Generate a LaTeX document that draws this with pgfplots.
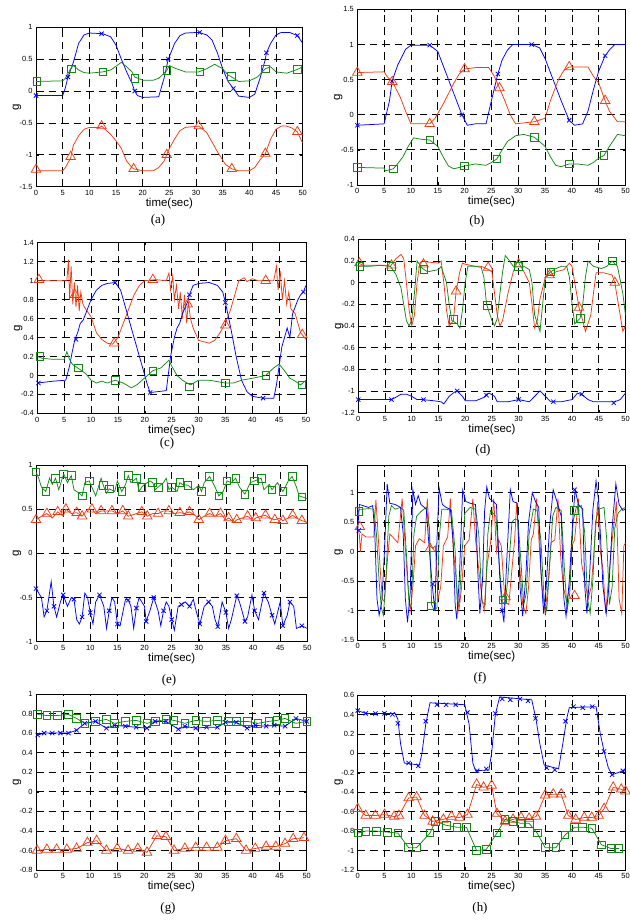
\documentclass[border=0pt]{standalone}
\usepackage{fontspec}
\setmainfont{Liberation Serif}
\setsansfont{Liberation Sans}
\usepackage{pgfplots}
\pgfplotsset{compat=1.18}

\definecolor{mblue}{RGB}{0,0,255}
\definecolor{mgreen}{RGB}{20,135,20}
\definecolor{mred}{RGB}{235,60,20}

\pgfplotsset{
  panel/.style={
    scale only axis, anchor=north west,
    xmin=0, xmax=50, xtick={0,5,...,50},
    grid=major,
    major grid style={black, dash pattern=on 7.5bp off 5bp, line width=0.7bp},
    axis line style={black, line width=0.7bp},
    tick style={black, line width=0.5bp},
    tick align=inside, major tick length=2.5bp,
    ticklabel style={font=\sffamily\fontsize{7.5}{8}\selectfont},
    /pgf/number format/assume math mode=true,
    /pgf/number format/fixed,
    xlabel={time(sec)}, ylabel={g},
    label style={font=\sffamily\fontsize{11.5}{12}\selectfont},
    xlabel style={at={(axis description cs:0.5,0)}, anchor=center, yshift=-17bp},
    ylabel style={at={(axis description cs:0,0.5)}, anchor=center, yshift=19bp},
    every axis plot/.append style={line width=0.75bp},
  },
  bl/.style={mblue, no markers},
  gl/.style={mgreen, no markers},
  rl/.style={mred, no markers},
  bm/.style={mblue, only marks, mark=x, mark size=3bp},
  gm/.style={mgreen, only marks, mark=square, mark size=3.8bp},
  rm/.style={mred, only marks, mark=triangle, mark size=5.5bp},
}
\newcommand{\panelcap}[3]{\node[font=\fontsize{13}{15}\selectfont] at (#1bp,#2bp) {#3};}

\begin{document}
\begin{tikzpicture}
\useasboundingbox (0,0) rectangle (630bp,920bp);

% (a)
\begin{axis}[panel, at={(36bp,892.7bp)}, width=266.7bp, height=159.4bp,
  ymin=-1.5, ymax=1, ytick={-1.5,-1,...,1}]
\addplot[bl] coordinates {(0,-0.07)(5,-0.07)(5.5,0.05)(6,0.22)(7,0.45)(8,0.75)(9,0.88)(10,0.91)(12.5,0.9)(14,0.85)(15,0.72)(16,0.5)(17,0.3)(18,0.12)(18.5,0.0)(19,-0.07)(20,-0.1)(23,-0.09)(24,0.2)(24.8,0.5)(26,0.75)(27,0.87)(28,0.91)(30.5,0.92)(32,0.88)(33,0.8)(34,0.6)(35,0.35)(36,0.15)(37,0.04)(38,-0.08)(40,-0.1)(41,-0.05)(42,0.2)(43,0.5)(43.2,0.6)(44,0.75)(45,0.88)(46,0.92)(47.5,0.92)(49,0.87)(50,0.75)};
\addplot[bm] coordinates {(0,-0.07)(6,0.22)(12.3,0.9)(18.5,0.0)(24.8,0.5)(30.7,0.92)(37,0.04)(43.2,0.6)(49,0.87)};
\addplot[gl] coordinates {(0,0.15)(5,0.16)(5.5,0.2)(6.5,0.35)(7,0.4)(8,0.33)(9,0.29)(10,0.28)(12.5,0.3)(14,0.33)(16,0.45)(17,0.38)(18,0.3)(18.5,0.22)(20,0.17)(22,0.17)(23,0.2)(24,0.28)(24.5,0.32)(25,0.4)(26,0.36)(28,0.3)(30.5,0.3)(32,0.35)(33.5,0.42)(35,0.35)(36,0.25)(36.5,0.23)(38,0.15)(40,0.16)(41.5,0.22)(43,0.35)(44,0.38)(45,0.3)(47,0.28)(49,0.34)(50,0.38)};
\addplot[gm] coordinates {(0.2,0.15)(6.6,0.35)(12.5,0.3)(18.5,0.2)(24.5,0.32)(30.7,0.3)(36.6,0.23)(43,0.35)(49,0.34)};
\addplot[rl] coordinates {(0,-1.25)(5,-1.25)(5.5,-1.2)(6.5,-1.05)(7,-0.85)(8,-0.7)(9,-0.6)(10,-0.57)(12,-0.57)(12.3,-0.55)(14,-0.68)(15,-0.78)(16,-0.9)(17,-1.1)(18,-1.2)(18.3,-1.22)(20,-1.25)(22,-1.25)(23,-1.2)(24,-1.1)(24.5,-1.0)(25,-0.9)(26,-0.75)(27,-0.62)(28,-0.57)(30.5,-0.55)(32,-0.65)(33,-0.8)(34,-0.95)(35.5,-1.15)(36.7,-1.22)(38,-1.25)(40,-1.25)(41,-1.2)(42,-1.08)(43,-0.98)(44,-0.75)(45,-0.6)(46,-0.55)(47,-0.55)(48,-0.58)(49,-0.64)(50,-0.82)};
\addplot[rm] coordinates {(0,-1.23)(6.5,-1.03)(12.3,-0.55)(18.3,-1.22)(24.5,-1.0)(30.5,-0.55)(36.7,-1.22)(43,-0.98)(49,-0.64)};
\end{axis}

% (b)
\begin{axis}[panel, at={(357.3bp,910.7bp)}, width=268.2bp, height=175.7bp,
  ymin=-1, ymax=1.5, ytick={-1,-0.5,...,1.5}]
\addplot[bl] coordinates {(0,-0.15)(5,-0.13)(6,0.2)(6.5,0.48)(7.5,0.7)(9,0.93)(10,0.99)(13.5,0.99)(15,0.9)(16,0.7)(17,0.5)(18,0.3)(19.5,0.0)(20.5,-0.15)(22,-0.13)(24,-0.13)(25,0.2)(26.2,0.58)(27,0.78)(28,0.92)(29,1.0)(32.5,1.0)(34,0.95)(35,0.8)(36,0.6)(37,0.4)(38,0.2)(39.5,-0.08)(40.5,-0.15)(42,-0.13)(43,0.05)(44,0.35)(45,0.62)(46.2,0.84)(47,0.92)(48,1.0)(50,1.0)};
\addplot[bm] coordinates {(0,-0.15)(6.5,0.48)(13.5,0.99)(19.5,0.0)(26.2,0.58)(32.5,1.0)(39.5,-0.08)(46.2,0.84)};
\addplot[rl] coordinates {(0,0.6)(5,0.61)(5.5,0.55)(6.5,0.47)(7,0.4)(8,0.25)(9,0.05)(10,-0.13)(11,-0.13)(13.5,-0.13)(14.5,-0.05)(16,0.15)(17,0.3)(18,0.45)(19,0.58)(20,0.65)(22,0.67)(24.5,0.67)(25.5,0.55)(26.5,0.38)(27.5,0.2)(28.5,0.0)(29.5,-0.13)(33,-0.1)(35,-0.05)(36,0.2)(37.5,0.5)(38.5,0.63)(39.5,0.68)(41,0.68)(43,0.68)(44,0.55)(45,0.45)(46.2,0.2)(47,0.05)(48.5,-0.1)(50,-0.1)};
\addplot[rm] coordinates {(0,0.6)(6.5,0.47)(13.5,-0.13)(20,0.65)(26.5,0.38)(33,-0.1)(39.5,0.68)(46.2,0.2)};
\addplot[gl] coordinates {(0,-0.75)(5,-0.76)(5.2,-0.8)(6.7,-0.77)(7.5,-0.7)(8.5,-0.6)(9.5,-0.45)(10.5,-0.33)(12,-0.35)(13.5,-0.36)(15,-0.45)(16,-0.6)(17,-0.73)(18,-0.77)(20,-0.73)(22,-0.7)(24,-0.72)(25,-0.68)(26,-0.63)(27,-0.5)(28,-0.38)(29.5,-0.3)(31,-0.28)(33,-0.32)(35,-0.45)(36,-0.6)(37,-0.72)(38,-0.74)(39.5,-0.7)(41,-0.7)(43,-0.72)(44,-0.68)(45,-0.62)(46,-0.58)(47,-0.45)(48.5,-0.28)(50,-0.3)};
\addplot[gm] coordinates {(0,-0.75)(6.7,-0.77)(13.5,-0.36)(20,-0.73)(26,-0.63)(33,-0.32)(39.5,-0.7)(46,-0.58)};
\end{axis}

% (c)
\begin{axis}[panel, at={(37.3bp,677.3bp)}, width=268.7bp, height=170.7bp,
  ymin=-0.4, ymax=1.4, ytick={-0.4,-0.2,...,1.4}]
\addplot[rl] coordinates {(0,1.0)(2,1.0)(4,1.0)(5.5,1.0)(5.8,1.22)(6,0.8)(6.3,1.15)(6.6,0.75)(6.9,0.98)(7.2,0.72)(7.5,0.95)(7.8,0.68)(8.1,0.88)(8.5,0.75)(9,0.7)(10,0.62)(11,0.45)(12,0.38)(13,0.34)(14,0.33)(15,0.4)(16,0.55)(17,0.7)(18,0.85)(19,0.95)(20,1.0)(22,1.01)(24,1.0)(24.5,1.08)(24.8,0.9)(25.2,1.05)(25.5,0.8)(25.9,0.95)(26.3,0.7)(26.6,0.88)(27,0.6)(27.4,0.85)(27.8,0.55)(28.1,0.78)(28.5,0.6)(29,0.5)(30,0.37)(32,0.34)(33,0.37)(34,0.45)(35,0.55)(36,0.7)(37,0.9)(37.5,1.0)(38.5,1.03)(39,0.99)(40,1.02)(41,1.0)(42.5,1.0)(44,1.0)(44.5,1.15)(44.8,0.9)(45.2,1.1)(45.6,0.8)(46,1.0)(46.4,0.75)(46.8,0.88)(47.2,0.7)(48,0.65)(49,0.45)(50,0.38)};
\addplot[rm] coordinates {(0.3,1.01)(7,0.85)(14.3,0.34)(21.5,1.01)(28,0.75)(35,0.53)(42.5,1.0)(49.3,0.43)};
\addplot[bl] coordinates {(0,-0.08)(3,-0.06)(5.3,-0.05)(6,0.1)(6.5,0.25)(7,0.38)(7.5,0.45)(8,0.55)(8.5,0.58)(9,0.65)(10,0.8)(11,0.9)(12,0.95)(13,0.97)(14.5,0.98)(15.5,0.9)(16.5,0.7)(17.5,0.5)(18.5,0.3)(19.5,0.1)(20.5,-0.1)(21,-0.18)(24,-0.16)(24.8,0.2)(25.5,0.4)(26,0.5)(26.5,0.55)(27,0.65)(28,0.78)(28.3,0.85)(29,0.95)(30,0.97)(32,0.98)(33.5,0.95)(34.5,0.88)(35,0.77)(36,0.5)(37,0.2)(38,-0.05)(39,-0.17)(40,-0.22)(42,-0.24)(44,-0.24)(44.5,-0.1)(45,0.1)(45.5,0.3)(46.5,0.5)(47,0.4)(47.5,0.65)(48.5,0.8)(49,0.85)(49.5,0.88)(50,0.95)};
\addplot[bm] coordinates {(0.2,-0.08)(7.2,0.38)(14.5,0.98)(21,-0.18)(28.3,0.85)(35,0.77)(42,-0.24)(49.5,0.88)};
\addplot[gl] coordinates {(0,0.2)(1,0.18)(3,0.17)(5,0.17)(5.5,0.25)(6,0.17)(6.5,0.12)(7.5,0.08)(9,0.02)(10,-0.05)(11,-0.08)(12,-0.06)(13,-0.08)(14.5,-0.05)(16,-0.08)(17.5,-0.13)(18.5,-0.1)(19.5,-0.05)(20.5,0.0)(21.5,0.05)(23,0.08)(24.5,0.16)(25,0.1)(26,0.0)(27,-0.05)(28.5,-0.1)(30,-0.05)(32,-0.05)(34,-0.07)(35,-0.08)(36.5,-0.08)(38,-0.05)(40,-0.03)(42.5,0.0)(44,0.08)(45,0.12)(46,0.05)(47,-0.03)(48,-0.06)(49,-0.1)(50,-0.05)};
\addplot[gm] coordinates {(0.5,0.2)(7.6,0.08)(14.5,-0.05)(21.5,0.05)(28.3,-0.12)(35,-0.08)(42.5,0.0)(49.2,-0.1)};
\end{axis}

% (d)
\begin{axis}[panel, at={(358.3bp,680.7bp)}, width=267.2bp, height=173.3bp,
  ymin=-1.2, ymax=0.4, ytick={-1.2,-1,...,0.4}]
\addplot[rl] coordinates {(0,0.18)(1,0.16)(3,0.16)(5,0.16)(6,0.15)(7,0.22)(8,0.26)(8.5,0.22)(9,0.0)(9.5,-0.25)(10,-0.4)(10.5,-0.3)(11,0.0)(11.5,0.18)(12,0.2)(13,0.19)(15,0.18)(15.5,0.2)(16,0.0)(16.5,-0.25)(17,-0.4)(17.8,-0.35)(18.3,-0.08)(19,0.1)(19.5,0.18)(20,0.17)(22,0.15)(23,0.15)(24,0.13)(25,0.1)(25.5,-0.1)(26,-0.3)(26.5,-0.4)(27,-0.35)(28,-0.1)(29,0.1)(29.8,0.2)(31,0.1)(32,0.0)(32.5,-0.2)(33,-0.42)(33.5,-0.35)(34,-0.15)(35,0.05)(35.8,0.07)(37,0.1)(38.5,0.12)(39.5,0.18)(40,0.15)(40.5,0.0)(41.3,-0.23)(42,-0.35)(42.5,-0.45)(43.5,-0.3)(44,-0.1)(44.5,0.09)(46,0.09)(47.5,0.07)(48,0.0)(49,-0.3)(49.5,-0.45)(50,-0.4)};
\addplot[rm] coordinates {(0.2,0.18)(6.2,0.16)(12.2,0.17)(18.3,-0.08)(24.3,0.14)(30,0.17)(35.8,0.07)(41.3,-0.23)(48,0.0)};
\addplot[gl] coordinates {(0,0.15)(2,0.15)(4,0.16)(6,0.15)(7,0.08)(8,-0.05)(8.5,-0.2)(9,-0.35)(9.5,-0.4)(10,-0.35)(10.5,-0.1)(11,0.2)(12,0.13)(13,0.1)(15,0.12)(15.5,0.15)(16.5,0.0)(17,-0.2)(17.5,-0.35)(18.5,-0.38)(19,-0.42)(19.5,-0.25)(20,0.0)(20.5,0.15)(22,0.15)(23,0.14)(23.5,0.05)(24,-0.2)(25,-0.35)(25.5,-0.4)(26,-0.33)(26.5,-0.1)(27,0.1)(27.5,0.25)(28,0.22)(29,0.15)(30,0.15)(31,0.15)(32,0.12)(32.5,0.0)(33,-0.3)(34,-0.45)(34.5,-0.2)(35,0.05)(36,0.1)(37,0.13)(38,0.15)(39,0.15)(39.5,0.05)(40,-0.2)(40.5,-0.38)(41.5,-0.33)(42,-0.2)(42.5,0.05)(43,0.2)(44,0.15)(45.5,0.13)(46.5,0.15)(47.5,0.2)(48.5,0.15)(49.5,-0.1)(50,-0.3)};
\addplot[gm] coordinates {(0.3,0.15)(6.2,0.15)(12.3,0.12)(17.8,-0.34)(24.2,-0.21)(30,0.15)(36,0.1)(41.6,-0.33)(47.5,0.2)};
\addplot[bl] coordinates {(0,-1.08)(6.2,-1.08)(7,-1.06)(8,-1.03)(9,-1.03)(10,-1.05)(11,-1.08)(12,-1.08)(14,-1.09)(15.5,-1.1)(16,-1.12)(17,-1.05)(18,-1.01)(18.5,-1.0)(19.5,-1.05)(20,-1.09)(22,-1.09)(23.5,-1.06)(24,-1.03)(24.5,-1.02)(25.5,-1.05)(26,-1.1)(28,-1.1)(30,-1.08)(32,-1.1)(33,-1.05)(34,-1.0)(35,-1.05)(36,-1.1)(36.5,-1.1)(38,-1.1)(40,-1.08)(41,-1.02)(42,-1.04)(43,-1.08)(44,-1.1)(46,-1.1)(48,-1.1)(49,-1.08)(50,-1.02)};
\addplot[bm] coordinates {(0,-1.08)(6.2,-1.08)(12.2,-1.08)(18.5,-1.0)(24,-1.04)(30,-1.08)(36.5,-1.1)(41.8,-1.03)(47.8,-1.11)};
\end{axis}

% (e)
\begin{axis}[panel, at={(36bp,455bp)}, width=271.3bp, height=176.7bp,
  ymin=-1, ymax=1, ytick={-1,-0.5,...,1}]
\addplot[gl] coordinates {(0,0.92)(0.5,0.85)(1,0.75)(1.8,0.7)(2.5,0.85)(3,0.78)(3.6,0.85)(4.2,0.72)(5.1,0.9)(5.8,0.8)(6.5,0.88)(7,0.72)(8,0.68)(8.5,0.65)(9,0.8)(9.8,0.82)(10.5,0.72)(11,0.65)(11.5,0.75)(12,0.85)(12.4,0.77)(13,0.68)(13.5,0.73)(14.5,0.7)(15,0.82)(15.8,0.7)(16.5,0.78)(17,0.88)(17.5,0.8)(18.5,0.85)(19,0.7)(19.5,0.75)(20,0.78)(21,0.82)(21.5,0.8)(22,0.72)(22.5,0.75)(23.5,0.8)(24,0.85)(24.5,0.72)(25,0.75)(26,0.7)(26.5,0.8)(27,0.78)(28,0.77)(29,0.72)(30,0.77)(30.5,0.7)(31,0.8)(32,0.87)(33,0.75)(33.7,0.65)(34.5,0.7)(35.2,0.82)(36,0.8)(36.8,0.85)(37.5,0.75)(38.5,0.67)(39.5,0.8)(40.3,0.82)(41.5,0.85)(42,0.72)(43,0.78)(43.5,0.72)(44.5,0.8)(45.5,0.7)(46.5,0.82)(47.2,0.87)(48,0.75)(48.5,0.65)(49,0.64)(50,0.62)};
\addplot[gm] coordinates {(0,0.92)(1.8,0.7)(3.6,0.85)(5.1,0.9)(6.5,0.88)(8.5,0.65)(9.8,0.82)(12.4,0.77)(13.5,0.73)(15.8,0.7)(17,0.88)(18.5,0.85)(19.5,0.75)(21.5,0.8)(22.5,0.75)(25,0.75)(26.5,0.8)(28,0.77)(30.5,0.7)(32,0.87)(33.7,0.65)(35.2,0.82)(36.8,0.85)(38.5,0.67)(40.3,0.82)(41.5,0.85)(43.5,0.72)(45.5,0.7)(47.2,0.87)(49,0.64)};
\addplot[rl] coordinates {(0,0.38)(1,0.42)(2,0.45)(3,0.4)(4,0.47)(5,0.42)(5.5,0.5)(6.5,0.45)(7.5,0.46)(8.5,0.42)(9.5,0.5)(10.3,0.5)(11,0.45)(12,0.48)(13,0.48)(14,0.48)(15,0.45)(16,0.48)(17,0.42)(18,0.44)(19.5,0.47)(20.5,0.42)(21.5,0.45)(22.5,0.45)(23.5,0.48)(24.5,0.48)(25.5,0.45)(26.5,0.46)(27.5,0.45)(28.3,0.47)(29.5,0.42)(30,0.38)(31,0.42)(32,0.45)(33,0.42)(34,0.45)(35,0.38)(35.5,0.4)(36.5,0.35)(37,0.38)(38,0.4)(39,0.42)(40,0.37)(40.5,0.4)(41.5,0.42)(42.3,0.43)(43,0.4)(44,0.38)(45,0.4)(45.5,0.37)(46.5,0.4)(47.3,0.43)(48,0.4)(49,0.37)(50,0.35)};
\addplot[rm] coordinates {(0,0.38)(2,0.45)(4,0.47)(5.5,0.5)(7.5,0.46)(8.5,0.42)(10.3,0.5)(12,0.48)(14,0.48)(16,0.48)(17,0.42)(19.5,0.47)(20.5,0.42)(22.5,0.45)(24.5,0.48)(26.5,0.46)(28.3,0.47)(30,0.38)(32,0.45)(34,0.45)(35.5,0.4)(37,0.38)(39,0.42)(40.5,0.4)(42.3,0.43)(44,0.38)(45.5,0.37)(47.3,0.43)(49,0.37)};
\addplot[bl] coordinates {(0,-0.4)(1,-0.5)(1.5,-0.72)(2,-0.65)(2.8,-0.32)(3.3,-0.6)(3.8,-0.72)(4.5,-0.55)(5,-0.47)(5.8,-0.6)(6.5,-0.5)(7,-0.52)(7.5,-0.75)(8,-0.8)(8.5,-0.72)(9,-0.45)(9.5,-0.5)(10,-0.67)(10.5,-0.8)(11,-0.55)(11.7,-0.47)(12.5,-0.6)(13,-0.85)(13.5,-0.65)(14,-0.5)(14.5,-0.55)(15,-0.8)(15.5,-0.82)(16.5,-0.52)(17,-0.53)(17.5,-0.6)(18,-0.85)(18.5,-0.62)(19,-0.5)(20,-0.6)(20.3,-0.77)(21,-0.65)(21.7,-0.5)(22.5,-0.65)(23,-0.82)(23.5,-0.65)(24,-0.55)(24.5,-0.6)(25,-0.75)(25.5,-0.87)(26.2,-0.6)(26.8,-0.58)(27.5,-0.55)(28.3,-0.6)(29,-0.52)(29.5,-0.65)(30.2,-0.8)(31,-0.6)(31.8,-0.55)(32.5,-0.6)(33,-0.75)(33.5,-0.83)(34.3,-0.55)(35,-0.67)(35.5,-0.85)(36,-0.75)(37,-0.48)(37.5,-0.55)(38.5,-0.77)(39,-0.72)(39.8,-0.47)(40.3,-0.65)(41,-0.75)(42,-0.45)(42.8,-0.55)(43.5,-0.7)(44,-0.8)(45,-0.55)(45.5,-0.82)(46.3,-0.7)(46.8,-0.55)(47.5,-0.6)(48,-0.85)(49,-0.82)(50,-0.85)};
\addplot[bm] coordinates {(0,-0.4)(2,-0.65)(3.3,-0.6)(5,-0.47)(7,-0.52)(8.5,-0.72)(10,-0.67)(11.7,-0.47)(13.5,-0.65)(15,-0.8)(17,-0.53)(18.5,-0.62)(20.3,-0.77)(21.7,-0.5)(23.5,-0.65)(25,-0.75)(26.8,-0.58)(28.3,-0.6)(30.2,-0.8)(31.8,-0.55)(33.5,-0.83)(35,-0.67)(37,-0.48)(38.5,-0.77)(40.3,-0.65)(42,-0.45)(43.5,-0.7)(45.5,-0.82)(46.8,-0.55)(49,-0.82)};
\end{axis}

% (f)
\begin{axis}[panel, at={(357.7bp,455bp)}, width=267.8bp, height=175bp,
  ymin=-1.5, ymax=1.47, ytick={-1.5,-1,...,1}]
\addplot[rl] coordinates {(0,0.4)(0.3,0.3)(0.5,0.0)(0.8,0.3)(1.5,0.25)(2.5,0.25)(3,0.25)(3.4,0.88)(3.8,0.3)(4.2,-0.3)(4.6,-0.8)(5,-0.85)(5.5,-0.2)(6,0.3)(6.5,0.25)(7.5,0.15)(8.3,0.9)(8.8,0.2)(9.3,-0.5)(9.8,-1.0)(10.3,-0.6)(10.8,0.1)(11.5,0.22)(12.5,0.15)(13,0.9)(13.5,0.1)(14,0.05)(14.5,0.1)(15,-0.8)(15.5,-0.6)(16,0.1)(16.8,0.25)(17.3,0.9)(17.8,0.1)(18.3,-0.4)(18.9,-1.0)(19.4,-0.6)(20,0.1)(20.8,0.2)(21.5,0.9)(22,0.2)(22.6,-0.3)(23.2,-0.8)(23.6,-1.0)(24.2,-0.2)(24.8,0.15)(25.4,0.9)(25.9,0.0)(26.3,0.2)(26.8,0.1)(27.5,-0.85)(28.2,-0.9)(28.8,-0.3)(29.3,0.2)(29.7,0.85)(30.3,-0.3)(30.8,-0.9)(31.4,-1.05)(31.9,-0.6)(32.4,0.2)(32.8,0.3)(33.4,0.9)(33.9,0.1)(34.4,-0.6)(35,-1.05)(35.5,-0.6)(36.1,0.15)(36.8,0.2)(37.4,0.9)(37.9,-0.1)(38.4,-0.6)(39,-0.85)(39.6,-0.6)(40,0.1)(40.5,0.2)(41.2,0.9)(41.8,-0.2)(42.4,-0.5)(43,-0.8)(43.6,-0.6)(44.2,0.1)(44.8,0.85)(45.3,0.0)(45.8,-0.3)(46.3,-1.05)(46.8,-0.5)(47.4,0.1)(48.3,0.85)(48.8,-0.8)(49.3,-1.05)(49.7,0.1)(50,0.15)};
\addplot[rm] coordinates {(0.4,0.42)(13.5,0.05)(27.6,-0.77)(40.5,-0.75)};
\addplot[gl] coordinates {(0,0.65)(0.3,0.72)(1,0.72)(2,0.73)(3,0.72)(3.5,0.3)(4,-0.5)(4.4,-0.95)(4.8,-1.08)(5.3,-0.4)(5.8,0.6)(6.3,0.78)(7,0.72)(8,0.75)(8.6,0.7)(9.2,-0.2)(9.6,-0.9)(10,-0.95)(10.5,0.3)(11,0.6)(11.8,0.68)(12.8,0.75)(13.4,0.4)(13.8,-0.9)(14.3,-1.0)(14.8,-0.95)(15.2,0.2)(15.7,0.72)(16.5,0.72)(17.5,0.7)(18.2,0.0)(18.6,-0.9)(19,-0.85)(19.5,0.0)(20,0.65)(21,0.75)(22,0.72)(22.6,0.3)(23.2,-0.85)(23.8,-0.9)(24.3,0.3)(24.8,0.7)(25.8,0.6)(26.5,-0.3)(27,-0.85)(27.5,-0.9)(28,-0.5)(28.8,0.5)(29.3,0.55)(29.9,0.55)(30.5,-0.2)(31,-0.9)(31.5,-0.7)(32,0.3)(32.8,0.72)(33.5,0.7)(34.2,0.2)(34.8,-0.8)(35.3,-1.0)(35.8,-0.3)(36.4,0.6)(37,0.75)(38,0.7)(38.6,-0.3)(39.1,-1.0)(39.6,-0.7)(40.2,0.5)(40.8,0.75)(41.8,0.78)(42.4,0.3)(42.9,-0.8)(43.4,-1.05)(43.9,-0.5)(44.4,0.5)(45,0.72)(46,0.75)(46.5,0.2)(47,-0.9)(47.5,-0.6)(48,0.4)(48.6,0.65)(49.3,0.72)(50,0.75)};
\addplot[gm] coordinates {(0.2,0.68)(13.7,-0.92)(27.1,-0.82)(40.5,0.7)};
\addplot[bl] coordinates {(0,0.35)(0.3,0.8)(1,0.78)(2,0.75)(2.8,0.78)(3.2,0.3)(3.6,-0.8)(4,-1.08)(4.5,-0.85)(5,0.0)(5.5,1.15)(6,0.82)(7,0.8)(8,0.75)(8.5,0.3)(8.9,-0.8)(9.3,-1.2)(9.8,-0.7)(10.3,1.05)(10.8,0.8)(11.3,0.95)(11.8,0.8)(12.8,0.72)(13.4,0.0)(13.9,-0.55)(14.4,-1.0)(14.8,0.2)(15.2,1.08)(15.8,0.8)(16.5,0.75)(17.3,0.72)(17.8,0.2)(18.2,-0.9)(18.5,-1.15)(19,-0.4)(19.6,1.05)(20.2,0.85)(21,0.82)(22,0.8)(22.4,-0.3)(22.8,-1.05)(23.3,-0.5)(23.7,0.7)(24.1,1.1)(24.6,0.9)(25.3,0.85)(25.9,0.8)(26.5,-0.4)(27,-1.0)(27.3,-1.2)(27.8,-0.2)(28.5,1.05)(29,0.85)(29.8,0.82)(30.3,-0.6)(30.8,-1.1)(31.4,-0.4)(31.9,0.5)(32.6,1.0)(33.2,0.85)(33.8,0.75)(34.2,-0.3)(34.7,-1.05)(35.2,-0.6)(35.8,0.4)(36.5,1.05)(37.2,0.85)(38,0.6)(38.5,-0.8)(38.9,-1.1)(39.5,-0.5)(40.2,0.6)(40.6,1.05)(41.2,0.8)(42,0.72)(42.4,-0.6)(42.8,-1.05)(43.3,-0.4)(43.9,0.7)(44.5,1.2)(45,0.85)(45.8,-0.6)(46.4,-1.05)(46.9,-0.6)(47.5,0.4)(48.2,1.15)(48.8,0.8)(49.5,0.7)(50,0.72)};
\addplot[bm] coordinates {(0.2,0.36)(14,-0.55)(27,-1.0)(40.5,1.05)};
\end{axis}

% (g)
\begin{axis}[panel, at={(36bp,226bp)}, width=270.7bp, height=176bp,
  ymin=-0.8, ymax=1, ytick={-0.8,-0.6,...,1}]
\addplot[mgreen, mark=square, mark size=3.8bp] coordinates {(0.3,0.79)(2,0.78)(4,0.78)(6,0.79)(7.5,0.75)(9,0.7)(11,0.72)(13,0.74)(14.5,0.7)(16.5,0.72)(18.5,0.73)(20.5,0.7)(22,0.72)(24,0.74)(25.5,0.73)(27.5,0.7)(29.5,0.73)(31.5,0.72)(33.5,0.73)(35.5,0.72)(37,0.72)(39,0.72)(41,0.7)(43,0.72)(44.5,0.73)(46,0.75)(48,0.7)(50,0.72)};
\addplot[mblue, mark=x, mark size=3bp] coordinates {(0.3,0.58)(1.5,0.6)(3,0.6)(4.5,0.6)(6,0.6)(7.5,0.63)(9,0.7)(11,0.72)(13,0.65)(14.5,0.68)(16.5,0.67)(18.5,0.66)(20.5,0.65)(22,0.72)(24,0.72)(26.3,0.64)(27.5,0.67)(29.5,0.65)(31.5,0.66)(33.5,0.66)(35,0.71)(37,0.71)(39,0.65)(40.5,0.68)(42.5,0.67)(44,0.68)(46,0.67)(48,0.75)(50,0.72)};
\addplot[mred, mark=triangle, mark size=5.5bp] coordinates {(0.2,-0.6)(2,-0.59)(3.8,-0.59)(5.7,-0.59)(7.5,-0.58)(9.5,-0.52)(11.2,-0.5)(13,-0.6)(15,-0.58)(17,-0.6)(18.8,-0.58)(20.5,-0.62)(22.3,-0.45)(24,-0.46)(25.5,-0.6)(27.5,-0.58)(29.5,-0.57)(31.5,-0.57)(33.5,-0.57)(35,-0.5)(37,-0.48)(38.8,-0.6)(40.5,-0.58)(42.5,-0.56)(44.3,-0.56)(46,-0.53)(47.5,-0.48)(49.5,-0.47)};
\end{axis}

% (h)
\begin{axis}[panel, at={(357.7bp,225bp)}, width=267.8bp, height=175bp,
  ymin=-1.2, ymax=0.6, ytick={-1.2,-1,...,0.6}]
\addplot[bl] coordinates {(0,0.44)(1.5,0.41)(7,0.41)(7.5,0.35)(8,0.1)(8.7,-0.1)(11.5,-0.12)(12,0.0)(12.7,0.3)(13.5,0.52)(20,0.5)(20.8,0.3)(21.5,-0.1)(22,-0.18)(24.5,-0.17)(25,0.0)(25.7,0.4)(26.5,0.58)(32.5,0.55)(33.3,0.35)(34,0.1)(34.8,-0.12)(37.5,-0.16)(38.3,0.1)(39,0.35)(39.5,0.47)(44.5,0.48)(45.3,0.2)(46,0.02)(46.8,-0.15)(47.5,-0.22)(48.5,-0.2)(50,-0.17)};
\addplot[bm] coordinates {(0,0.44)(1.5,0.41)(3.3,0.41)(5,0.41)(6.5,0.4)(7.5,0.31)(9.5,-0.1)(11.3,-0.13)(12.7,0.33)(14.8,0.5)(16.5,0.5)(18.3,0.5)(20.5,0.42)(22.3,-0.18)(24,-0.16)(25.7,0.41)(27,0.56)(28.5,0.55)(30.3,0.56)(31.8,0.54)(33.2,0.36)(35.3,-0.15)(36.8,-0.17)(38.8,0.33)(40.3,0.48)(42,0.47)(43.8,0.48)(46,0.02)(47.5,-0.22)(49.5,-0.18)};
\addplot[mred, mark=triangle, mark size=5.5bp] coordinates {(0,-0.57)(1.5,-0.64)(3.3,-0.64)(5,-0.63)(6.8,-0.65)(7.7,-0.64)(9.5,-0.46)(11,-0.45)(12.5,-0.64)(14,-0.7)(16,-0.68)(17.5,-0.65)(19,-0.66)(20.5,-0.63)(22.2,-0.32)(23.5,-0.35)(25,-0.33)(26,-0.62)(27.5,-0.7)(29,-0.68)(30.5,-0.66)(32,-0.67)(33.3,-0.65)(35,-0.43)(36.5,-0.42)(38,-0.42)(39.3,-0.64)(40.7,-0.68)(42.3,-0.66)(43.7,-0.66)(45,-0.64)(46,-0.57)(47.7,-0.35)(49.2,-0.37)(50,-0.39)};
\addplot[mgreen, mark=square, mark size=3.8bp] coordinates {(0,-0.82)(1.5,-0.8)(3.5,-0.8)(5.5,-0.81)(7.5,-0.82)(9.5,-0.97)(11,-0.97)(13.5,-0.82)(14.5,-0.7)(16.5,-0.74)(18.5,-0.76)(20.3,-0.76)(22.2,-1.0)(24,-0.99)(26,-0.82)(27.5,-0.68)(29,-0.7)(30.5,-0.72)(32,-0.72)(33.5,-0.82)(35,-0.97)(37,-0.97)(38.7,-0.84)(40.5,-0.76)(42,-0.76)(43.7,-0.77)(45.5,-0.94)(47.3,-0.98)(48.8,-0.98)};
\end{axis}

\panelcap{158}{700}{(a)}
\panelcap{477}{699}{(b)}
\panelcap{167}{477}{(c)}
\panelcap{483}{470}{(d)}
\panelcap{169}{240}{(e)}
\panelcap{480}{242}{(f)}
\panelcap{168}{12}{(g)}
\panelcap{480}{12}{(h)}
\end{tikzpicture}
\end{document}
